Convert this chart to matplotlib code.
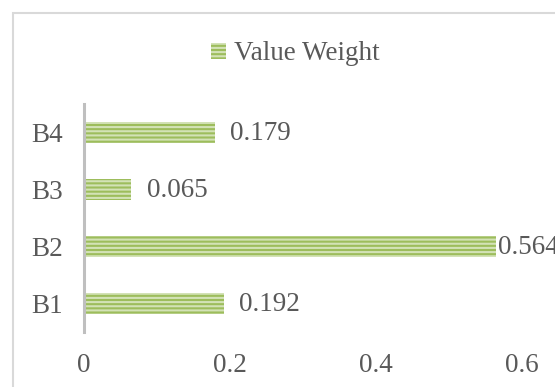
import matplotlib.pyplot as plt
from matplotlib.patches import Rectangle

plt.rcParams["font.family"] = ["Liberation Serif", "DejaVu Serif"]
plt.rcParams["hatch.color"] = "#D3E2B6"
plt.rcParams["hatch.linewidth"] = 1.5

categories = ["B1", "B2", "B3", "B4"]
weights = [0.192, 0.564, 0.065, 0.179]
x_ticks = [0, 0.2, 0.4, 0.6]
x_tick_labels = ["0", "0.2", "0.4", "0.6"]

text_color = "#595959"
bar_color = "#9DBD5C"
fs = 19.5

fig = plt.figure(figsize=(5.55, 3.87), dpi=100)
W, H = 555, 387

# chart frame (cropped screenshot: only top/left edges visible)
fig.patches.append(Rectangle((13 / W, -0.1), 1.2, (H - 13) / H + 0.1,
                             transform=fig.transFigure, fill=False,
                             edgecolor="#D9D9D9", linewidth=1.5))

ax = fig.add_axes([84 / W, (H - 332) / H, 438 / W, 228 / H])
ax.set_facecolor("none")

bars = ax.barh(categories, weights, height=0.38, color=bar_color,
               hatch="----", linewidth=0, label="Value Weight")

for rect, v in zip(bars, weights):
    off = 2 if v > 0.5 else 11
    ax.annotate(f"{v:.3f}", (rect.get_width(), rect.get_y() + rect.get_height() / 2),
                xytext=(off, -1), textcoords="offset points", ha="left", va="center",
                fontsize=fs, color=text_color, annotation_clip=False, clip_on=False)

ax.set_xlim(0, 0.6)
ax.set_ylim(-0.5, 3.5)
ax.set_xticks(x_ticks, x_tick_labels)
ax.tick_params(axis="x", length=0, pad=15, labelsize=fs, labelcolor=text_color)
ax.tick_params(axis="y", length=0, pad=15, labelsize=fs, labelcolor=text_color)

for s in ["top", "right", "bottom"]:
    ax.spines[s].set_visible(False)
ax.spines["left"].set_color("#BFBFBF")
ax.spines["left"].set_linewidth(2.2)

fig.legend(handles=[bars], labels=["Value Weight"], loc="center",
           bbox_to_anchor=(295 / W, 1 - 54 / H), frameon=False,
           fontsize=fs, labelcolor=text_color, handlelength=0.55,
           handleheight=0.55, handletextpad=0.3)

plt.savefig("out.png", dpi=100)
